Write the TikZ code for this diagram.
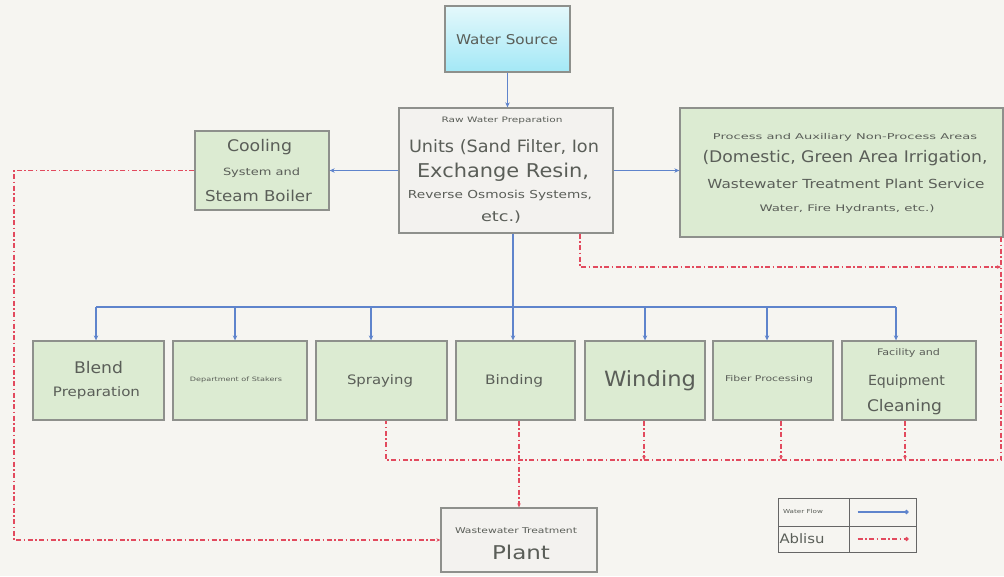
\documentclass[tikz,border=0pt]{standalone}
\usepackage{fontspec}
\usepackage{graphicx}
\setmainfont{DejaVu Sans}
\usetikzlibrary{arrows.meta}
\definecolor{bgc}{HTML}{F6F5F1}
\definecolor{greenfill}{HTML}{DCEBD2}
\definecolor{rawfill}{HTML}{F3F2EF}
\definecolor{boxgray}{HTML}{8E908C}
\definecolor{flowblue}{HTML}{5F84CC}
\definecolor{retred}{HTML}{E24A5E}
\definecolor{txtgray}{HTML}{5A5E58}
\definecolor{wsTop}{HTML}{E4F8FB}
\definecolor{wsBot}{HTML}{A3E8F6}
\newcommand\fsz[1]{\fontsize{#1}{#1}\selectfont}
% size, target width (pt), text
\newcommand\tw[3]{\resizebox{#2pt}{\height}{\fsz{#1}#3}}
\tikzset{
  gbox/.style={draw=boxgray, line width=1.3pt, fill=greenfill, inner sep=0pt},
  rbox/.style={draw=boxgray, line width=1.3pt, fill=rawfill, inner sep=0pt},
  lbox/.style={draw=black!60, line width=1pt, inner sep=0pt},
  txt/.style={text=txtgray, inner sep=0pt, anchor=center},
  flowline/.style={draw=flowblue, line width=1.8pt},
  flow/.style={flowline, -{Stealth[length=5pt,width=4.5pt]}},
  ret/.style={draw=retred, line width=1.2pt, dash pattern=on 5pt off 2.5pt on 1.5pt off 2.5pt},
  retA/.style={ret, -{Stealth[length=4pt,width=3.5pt]}},
}
\begin{document}
\begin{tikzpicture}[x=1pt,y=-1pt]
\useasboundingbox (0,0) rectangle (1004,576);
\fill[bgc] (0,0) rectangle (1004,576);

% boxes
\node[draw=boxgray, line width=1.3pt, top color=wsTop, bottom color=wsBot, inner sep=0pt,
      minimum width=125pt, minimum height=66pt] (ws) at (507.5,39) {};
\node[rbox, minimum width=214pt, minimum height=125pt] (raw) at (506,170.5) {};
\node[gbox, minimum width=134pt, minimum height=79pt] (cool) at (262,170.5) {};
\node[gbox, minimum width=323pt, minimum height=129pt] (proc) at (841.5,172.5) {};
\node[gbox, minimum width=131pt, minimum height=79pt] (blend) at (98.5,380.5) {};
\node[gbox, minimum width=134pt, minimum height=79pt] (dept) at (240,380.5) {};
\node[gbox, minimum width=131pt, minimum height=79pt] (spray) at (381.5,380.5) {};
\node[gbox, minimum width=119pt, minimum height=79pt] (bind) at (515.5,380.5) {};
\node[gbox, minimum width=120pt, minimum height=79pt] (wind) at (645,380.5) {};
\node[gbox, minimum width=120pt, minimum height=79pt] (fiber) at (773,380.5) {};
\node[gbox, minimum width=134pt, minimum height=79pt] (fac) at (909,380.5) {};
\node[rbox, minimum width=156pt, minimum height=64pt] (wwtp) at (519,540) {};

% texts
\node[txt] (wsT) at (507,40) {\tw{13.5}{102}{Water Source}};
\node[txt] (rawT1) at (502,120) {\tw{7.5}{121}{Raw Water Preparation}};
\node[txt] (rawT2) at (504,147) {\tw{17}{190}{Units (Sand Filter, Ion}};
\node[txt] (rawT3) at (503,172) {\tw{19}{172}{Exchange Resin,}};
\node[txt] (rawT4) at (500,195) {\tw{11}{184}{Reverse Osmosis Systems,}};
\node[txt] (rawT5) at (501,217) {\tw{14}{40}{etc.)}};
\node[txt] (coolT1) at (259.5,147) {\tw{16}{65}{Cooling}};
\node[txt] (coolT2) at (261.5,173) {\tw{10}{77}{System and}};
\node[txt] (coolT3) at (258.5,196) {\tw{15}{107}{Steam Boiler}};
\node[txt] (procT1) at (845,137) {\tw{8}{264}{Process and Auxiliary Non-Process Areas}};
\node[txt] (procT2) at (845,158) {\tw{16}{285}{(Domestic, Green Area Irrigation,}};
\node[txt] (procT3) at (846,184) {\tw{12.5}{277}{Wastewater Treatment Plant Service}};
\node[txt] (procT4) at (847,209) {\tw{9}{175}{Water, Fire Hydrants, etc.)}};
\node[txt] (blendT1) at (98.5,368) {\tw{16}{49}{Blend}};
\node[txt] (blendT2) at (96.5,393) {\tw{13}{87}{Preparation}};
\node[txt] (deptT) at (236,380) {\tw{6}{92}{Department of Stakers}};
\node[txt] (sprayT) at (380,381) {\tw{13}{66}{Spraying}};
\node[txt] (bindT) at (514,381) {\tw{13}{58}{Binding}};
\node[txt] (windT) at (650,381) {\tw{21}{92}{Winding}};
\node[txt] (fiberT) at (769,379) {\tw{8}{88}{Fiber Processing}};
\node[txt] (facT1) at (908.5,353) {\tw{9}{63}{Facility and}};
\node[txt] (facT2) at (906.5,382) {\tw{14}{77}{Equipment}};
\node[txt] (facT3) at (904.5,407) {\tw{16}{75}{Cleaning}};
\node[txt] (wwtpT1) at (516,531) {\tw{8}{122}{Wastewater Treatment}};
\node[txt] (wwtpT2) at (521,552) {\tw{19}{58}{Plant}};

% blue flow
\draw[flow] (ws.south) -- (ws.south |- raw.north);
\draw[flow] (raw.west) -- (cool.east);
\draw[flow] (raw.east) -- (raw.east -| proc.west);
\coordinate (trunk) at (513,307);
\draw[flow] (trunk |- raw.south) -- (trunk |- bind.north);
\coordinate (busL) at (96,307);
\coordinate (busR) at (896,307);
\draw[flowline] (busL) -- (busR);
\foreach \x/\n in {96/blend,235/dept,371/spray,645/wind,767/fiber,896/fac}{
  \coordinate (d\n) at (\x,307);
  \draw[flow] (d\n) -- (d\n |- \n.north);
}

% red return lines
\coordinate (lt) at (14,170.5);
\coordinate (lb) at (14,540);
\draw[retA] (cool.west) -- (lt) -- (lb) -- (wwtp.west);
\coordinate (rr1) at (580,267);
\coordinate (rr2) at (1001,267);
\draw[retA] (rr1 |- raw.south) -- (rr1) -- (rr2);
\coordinate (rt) at (1001,237);
\coordinate (rb) at (1001,460);
\coordinate (cl) at (386,460);
\draw[ret] (rt) -- (rb) -- (cl) -- (cl |- spray.south);
\foreach \x/\n in {644/wind,781/fiber,905/fac}{
  \coordinate (r\n) at (\x,460);
  \draw[retA] (r\n |- \n.south) -- (r\n);
}
\draw[retA] (wwtp.north |- bind.south) -- (wwtp.north);

% legend
\node[lbox, minimum width=71pt, minimum height=28pt] (lg1) at (813.5,512) {};
\node[lbox, minimum width=67pt, minimum height=28pt] (lg2) at (882.5,512) {};
\node[lbox, minimum width=71pt, minimum height=26pt] (lg3) at (813.5,539) {};
\node[lbox, minimum width=67pt, minimum height=26pt] (lg4) at (882.5,539) {};
\node[txt] (lgT1) at (803,511) {\tw{5.5}{40}{Water Flow}};
\node[txt] (lgT2) at (802,539) {\tw{13}{45}{Ablisu}};
\draw[flowline, line width=1.4pt, -{Circle[length=4pt]}] ([xshift=9pt]lg2.west) -- ([xshift=-8pt]lg2.east);
\draw[ret, -{Circle[length=4pt]}] ([xshift=9pt]lg4.west) -- ([xshift=-8pt]lg4.east);
\end{tikzpicture}
\end{document}
